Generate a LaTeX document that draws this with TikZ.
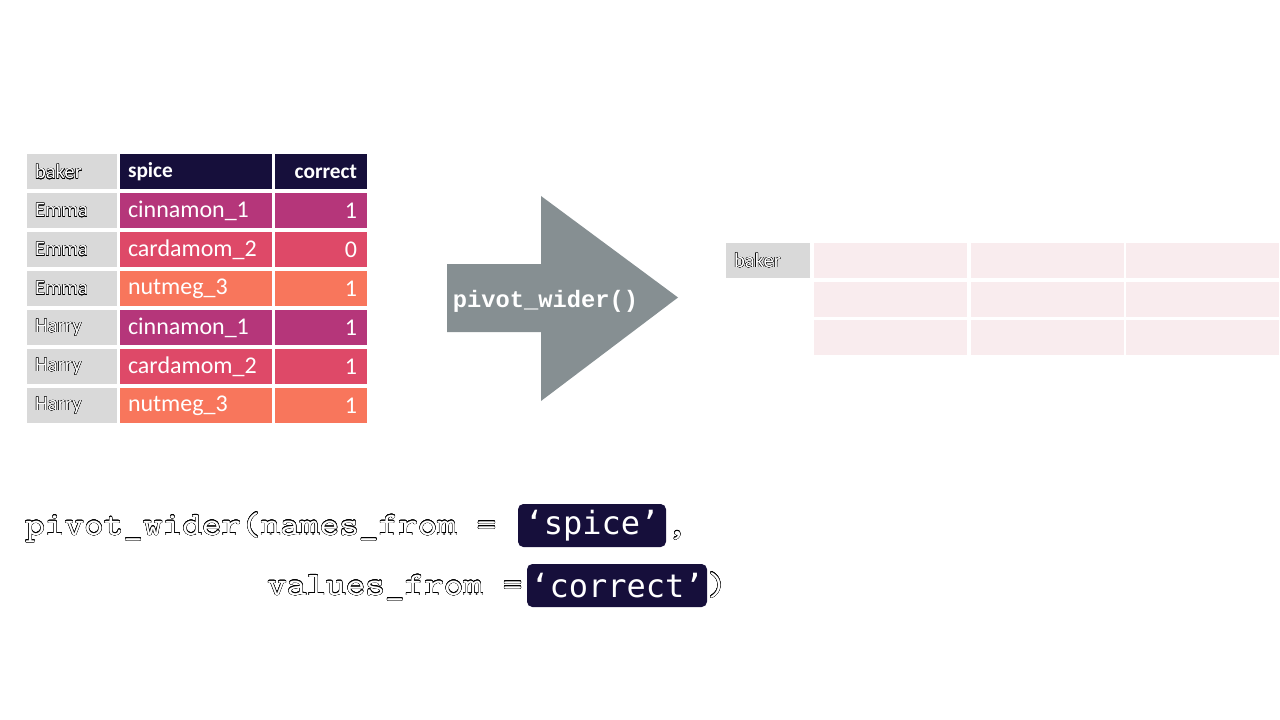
\documentclass[tikz,border=0pt]{standalone}
\usepackage{fontspec}
\setmainfont{Carlito}
\newfontfamily\codefont{Liberation Mono}
\newfontfamily\boxfont{DejaVu Sans Mono}
\newfontfamily\callfont[FakeStretch=1.14]{lmmono10-regular.otf}
\usepackage[copies]{contour}
\contourlength{0.22pt}

\definecolor{navy}{HTML}{160F3B}
\definecolor{cinnamon}{HTML}{B5367A}
\definecolor{cardamom}{HTML}{DE4968}
\definecolor{nutmeg}{HTML}{F8765C}
\definecolor{bakergray}{HTML}{D9D9D9}
\definecolor{arrowgray}{HTML}{868F92}
\definecolor{emptypink}{HTML}{F9ECEE}

% white letters with a thin black rim
\newcommand{\hollow}[1]{\contour{black}{\textcolor{white}{#1}}}

\tikzset{
  cell/.style = {minimum height=26.25pt, inner ysep=0pt, anchor=center},
  bakercell/.style = {cell, fill=bakergray, inner xsep=6pt, text width=55.5pt, align=left,
    font=\fontsize{15.5}{16}\selectfont},
  spicecell/.style = {cell, inner xsep=6pt, text width=102pt, align=left, text=white,
    font=\fontsize{18}{20}\selectfont},
  valuecell/.style = {cell, inner xsep=7.5pt, text width=54pt, align=right, text=white,
    font=\fontsize{18}{20}\selectfont},
  headcell/.style = {fill=navy, font=\fontsize{16}{18}\selectfont\bfseries},
  emptycell/.style = {cell, fill=emptypink, minimum width=114.75pt},
  codetext/.style = {inner sep=0pt, anchor=base west, font=\callfont\fontsize{24.6}{26}\selectfont},
  codebox/.style = {fill=navy, rounded corners=4pt, text=white, inner sep=0pt,
    minimum height=32.25pt, font=\boxfont\fontsize{24}{26}\selectfont}
}

\begin{document}
\begin{tikzpicture}[x=0.75pt, y=-0.75pt]

  \useasboundingbox (0,0) rectangle (1280,720);

  % long table
  \node[bakercell] (L_0_0) at (72,172) {\hollow{baker}};
  \node[spicecell, headcell] (L_0_1) at (196,172) {spice};
  \node[valuecell, headcell] (L_0_2) at (321,172) {correct};

  \foreach \baker/\spice/\val/\col [count=\i] in {
      Emma/cinnamon\_1/1/cinnamon, Emma/cardamom\_2/0/cardamom, Emma/nutmeg\_3/1/nutmeg,
      Harry/cinnamon\_1/1/cinnamon, Harry/cardamom\_2/1/cardamom, Harry/nutmeg\_3/1/nutmeg} {
    \pgfmathsetmacro{\rowy}{171.5+39*\i}
    \node[bakercell] (L_\i_0) at (72,\rowy) {\hollow{\baker}};
    \node[spicecell, fill=\col] (L_\i_1) at (196,\rowy) {\spice};
    \node[valuecell, fill=\col] (L_\i_2) at (321,\rowy) {\val};
  }

  % arrow
  \fill[arrowgray] (447,264) -- (541,264) -- (541,196) -- (678,297.5)
    -- (541,401) -- (541,332) -- (447,332) -- cycle;
  \node[inner sep=0pt, anchor=base, text=white,
    font=\codefont\bfseries\fontsize{17.8}{19}\selectfont] (pivot) at (545.5,307) {pivot\_wider()};

  % wide table
  \node[cell, fill=bakergray, minimum width=63pt, inner xsep=6pt, text width=51pt, align=left,
    font=\fontsize{15.5}{16}\selectfont] (W_0_0) at (768,260.5) {\hollow{baker}};
  \foreach \row/\rowy in {0/260.5, 1/299.5, 2/337.5}
    \foreach \c/\colx in {1/890.5, 2/1047, 3/1202.5}
      \node[emptycell] (W_\row_\c) at (\colx,\rowy) {};

  % call
  \node[codetext] (namesfrom) at (25,535) {\hollow{pivot\_wider(names\_from =}};
  \node[codebox, minimum width=111pt] (spicearg) at (592,525.5) {‘spice’};
  \node[codetext] (comma) at (667,535) {\hollow{,}};

  \node[codetext] (valuesfrom) at (267,595) {\hollow{values\_from =}};
  \node[codebox, minimum width=135pt] (correctarg) at (617,585.5) {‘correct’};
  \node[codetext] (closeparen) at (707,595) {\hollow{)}};

\end{tikzpicture}
\end{document}
